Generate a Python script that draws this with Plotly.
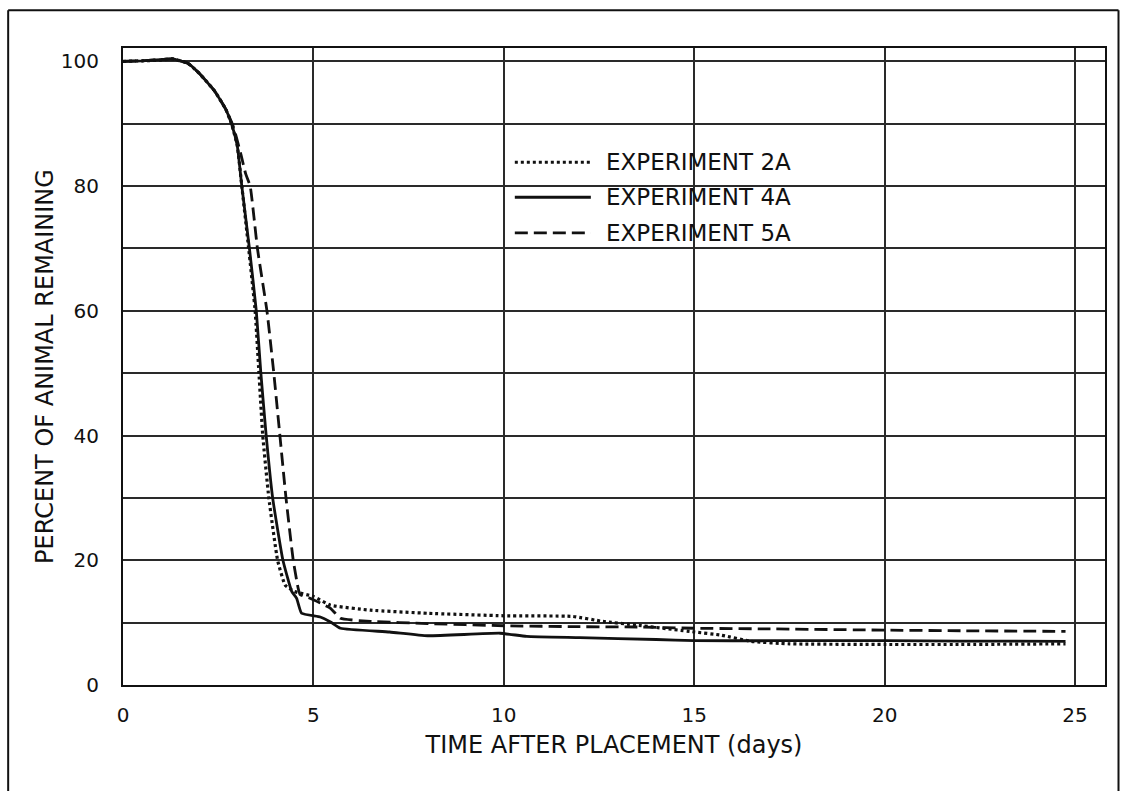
import plotly.graph_objects as go

# ---------------- data ----------------
exp_2a_x = [0, 0.5, 1.0, 1.3, 1.7, 2.0, 2.4, 2.7, 2.85, 3.0, 3.12, 3.3, 3.47, 3.57, 3.67,
            3.83, 4.06, 4.26, 4.5, 5.0, 5.45, 6.5, 8.0, 10.0, 11.8, 12.6, 13.5, 15.0,
            15.7, 16.5, 17.5, 20.0, 22.0, 24.75]
exp_2a_y = [100, 100.1, 100.2, 100.4, 99.7, 98.1, 95.3, 92.3, 90, 86.5, 80, 70, 60, 50, 40,
            30, 20, 16, 15, 14.2, 12.8, 12.0, 11.5, 11.1, 11.0, 10.2, 9.6, 8.5,
            8.0, 7.0, 6.6, 6.5, 6.5, 6.6]

exp_4a_x = [0, 0.5, 1.0, 1.3, 1.7, 2.0, 2.4, 2.7, 2.85, 3.0, 3.12, 3.32, 3.5, 3.62, 3.76,
            3.93, 4.2, 4.43, 4.56, 4.69, 5.18, 5.45, 5.71, 7.0, 8.0, 9.9, 10.6, 12.0,
            14.0, 15.0, 17.0, 20.0, 22.0, 24.75]
exp_4a_y = [100, 100.1, 100.3, 100.4, 99.7, 98.1, 95.3, 92.3, 90, 86.5, 80, 70, 60, 50, 40,
            30, 20, 15, 13.9, 11.5, 10.9, 10.1, 9.1, 8.5, 7.9, 8.3, 7.8, 7.6,
            7.3, 7.1, 7.1, 7.1, 7.05, 7.0]

exp_5a_x = [0, 0.5, 1.0, 1.3, 1.7, 2.0, 2.4, 2.7, 2.9, 3.1, 3.22, 3.34, 3.53, 3.78, 3.96,
            4.12, 4.28, 4.47, 4.6, 4.65, 4.91, 5.45, 5.71, 6.5, 8.0, 10.0, 12.0, 13.5,
            15.0, 17.0, 20.0, 22.0, 24.75]
exp_5a_y = [100, 100.1, 100.3, 100.4, 99.7, 98.1, 95.3, 92.3, 89.5, 85, 82, 80, 70, 60, 50,
            40, 30, 20, 15.5, 14.5, 13.9, 12.3, 10.7, 10.2, 9.85, 9.5, 9.35, 9.3,
            9.1, 9.0, 8.8, 8.7, 8.6]

series_names = ["EXPERIMENT 2A", "EXPERIMENT 4A", "EXPERIMENT 5A"]

x_tick_vals = [0, 5, 10, 15, 20, 25]
x_tick_text = ["0", "5", "10", "15", "20", "25"]
y_tick_vals = [0, 10, 20, 30, 40, 50, 60, 70, 80, 90, 100]
y_tick_text = ["0", "", "20", "", "40", "", "60", "", "80", "", "100"]

x_title = "TIME AFTER PLACEMENT (days)"
y_title = "PERCENT OF ANIMAL REMAINING"

# ---------------- layout geometry (pixels) ----------------
W, H = 1126, 791
L, R, T, B = 123.3, 1105.0, 48.3, 685.0
FONT = "DejaVu Sans"
INK = "#111111"

def px_x(px):
    return (px - L) / (R - L)

def px_y(py):
    return (B - py) / (B - T)

dash_styles = ["3px,3px", "solid", "13px,6px"]
widths = [3.2, 2.8, 2.8]

fig = go.Figure()
for xs, ys, name, dash, w in zip([exp_2a_x, exp_4a_x, exp_5a_x],
                                 [exp_2a_y, exp_4a_y, exp_5a_y],
                                 series_names, dash_styles, widths):
    fig.add_trace(go.Scatter(
        x=xs, y=ys, mode="lines", name=name,
        line=dict(color=INK, width=w, dash=dash, shape="spline", smoothing=0.4),
        showlegend=False, hoverinfo="skip",
    ))

shapes = []
annotations = []

# custom legend (sample lines + labels)
legend_rows = [162.5, 197.5, 233.0]
for row_y, name, dash, w in zip(legend_rows, series_names, dash_styles, widths):
    shapes.append(dict(type="line", xref="paper", yref="paper",
                       x0=px_x(515), x1=px_x(591), y0=px_y(row_y), y1=px_y(row_y),
                       line=dict(color=INK, width=w, dash=dash)))
    annotations.append(dict(xref="paper", yref="paper", x=px_x(604), y=px_y(row_y),
                            text=name, showarrow=False, xanchor="left", yanchor="middle",
                            font=dict(family=FONT, size=23, color=INK)))

# outer frame of the figure (open at the bottom)
frame = dict(color=INK, width=2)
shapes.append(dict(type="line", xref="paper", yref="paper",
                   x0=px_x(8.5), x1=px_x(1118.5), y0=px_y(10.5), y1=px_y(10.5), line=frame))
shapes.append(dict(type="line", xref="paper", yref="paper",
                   x0=px_x(8.5), x1=px_x(8.5), y0=px_y(10.5), y1=px_y(800), line=frame))
shapes.append(dict(type="line", xref="paper", yref="paper",
                   x0=px_x(1118.5), x1=px_x(1118.5), y0=px_y(10.5), y1=px_y(800), line=frame))

axis_common = dict(
    showline=True, mirror=True, linecolor=INK, linewidth=2.2,
    showgrid=True, gridcolor="#2a2a2a", gridwidth=1.8,
    zeroline=False, ticks="",
    tickfont=dict(family=FONT, size=20, color=INK),
)

fig.update_layout(
    width=W, height=H,
    margin=dict(l=L, r=W - R, t=T, b=H - B, pad=0),
    paper_bgcolor="white", plot_bgcolor="white",
    showlegend=False,
    xaxis=dict(**axis_common, range=[0, (R - L) / 38.07],
               tickmode="array", tickvals=x_tick_vals, ticktext=x_tick_text,
               ticklabelstandoff=11,
               title=dict(text=x_title, font=dict(family=FONT, size=24, color=INK),
                          standoff=10)),
    yaxis=dict(**axis_common, range=[0, (B - T) / 6.233],
               tickmode="array", tickvals=y_tick_vals, ticktext=y_tick_text,
               ticklabelstandoff=18,
               title=dict(text=y_title, font=dict(family=FONT, size=24, color=INK),
                          standoff=0)),
    shapes=shapes,
    annotations=annotations,
)

fig.write_html("out.html")
